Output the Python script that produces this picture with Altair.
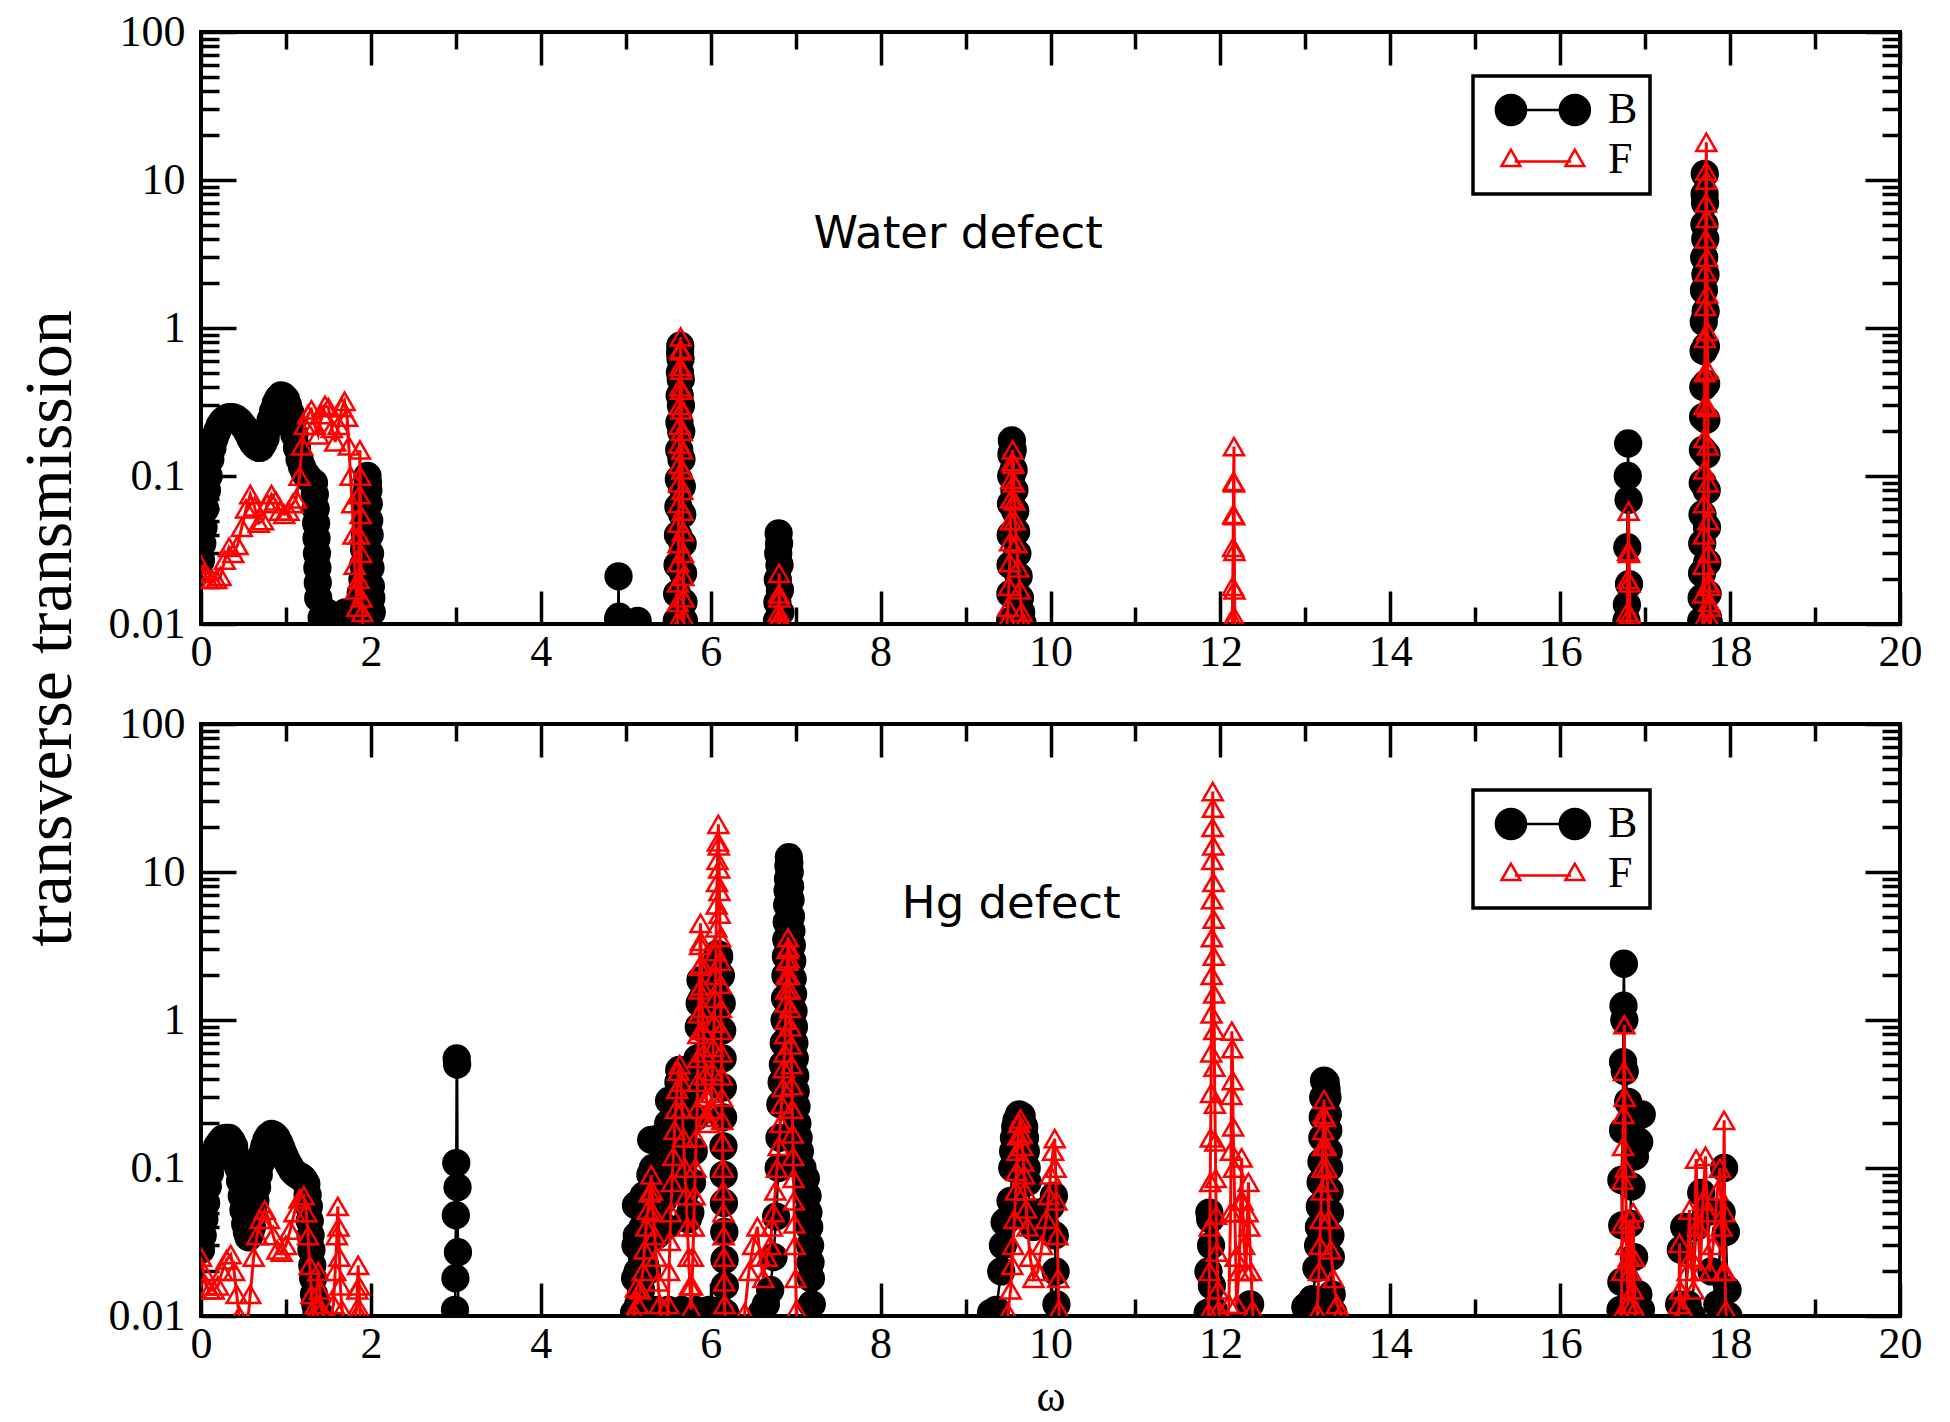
import altair as alt
import pandas as pd

SERIF = "Liberation Serif"
SANS = "DejaVu Sans"

# ---------------- Water defect (top panel) ----------------
WATER_B = [
    (0.00, 0.027), (0.015, 0.035), (0.03, 0.045), (0.05, 0.06), (0.07, 0.08), (0.09, 0.1),
    (0.11, 0.13), (0.135, 0.155), (0.16, 0.18), (0.19, 0.2), (0.22, 0.22), (0.255, 0.235),
    (0.29, 0.245), (0.33, 0.25), (0.37, 0.25), (0.41, 0.245), (0.45, 0.235), (0.485, 0.222),
    (0.52, 0.21), (0.55, 0.195), (0.58, 0.18), (0.61, 0.168), (0.64, 0.16), (0.67, 0.155),
    (0.70, 0.155), (0.73, 0.165), (0.76, 0.18), (0.79, 0.21), (0.82, 0.24), (0.85, 0.275),
    (0.88, 0.31), (0.91, 0.335), (0.94, 0.35), (0.97, 0.345), (1.00, 0.33), (1.025, 0.3),
    (1.05, 0.27), (1.075, 0.23), (1.10, 0.19), (1.13, 0.155), (1.16, 0.13), (1.19, 0.115),
    (1.22, 0.105), (1.25, 0.1), (1.28, 0.095), (1.305, 0.092), (1.33, 0.09), (1.34, 0.075),
    (1.35, 0.06), (1.355, 0.048), (1.36, 0.038), (1.365, 0.03), (1.37, 0.024), (1.375, 0.019),
    (1.38, 0.015), (1.42, 0.011), (1.48, 0.012), (1.55, 0.0105), (1.62, 0.011), (1.70, 0.012),
    (1.77, 0.011), (1.83, 0.012), (1.88, 0.016), (1.90, 0.02), (1.91, 0.025), (1.92, 0.032),
    (1.93, 0.04), (1.94, 0.05), (1.95, 0.065), (1.955, 0.08), (1.96, 0.1), (1.965, 0.09),
    (1.97, 0.08), (1.975, 0.065), (1.98, 0.05), (1.985, 0.04), (1.99, 0.03), (1.995, 0.024),
    (2.00, 0.018), (2.005, 0.015), (2.01, 0.012), (2.03, 0.006),
    (4.86, 0.004), (4.91, 0.0108), (4.915, 0.021), (4.92, 0.0112), (5.02, 0.007), (5.14, 0.0105), (5.22, 0.005),
    (5.56, 0.004), (5.60, 0.0105), (5.605, 0.016), (5.61, 0.025), (5.615, 0.04), (5.62, 0.062),
    (5.625, 0.095), (5.63, 0.15), (5.632, 0.23), (5.635, 0.35), (5.638, 0.5), (5.64, 0.68),
    (5.642, 0.76), (5.645, 0.62), (5.648, 0.45), (5.65, 0.3), (5.653, 0.2), (5.656, 0.13),
    (5.66, 0.085), (5.665, 0.055), (5.67, 0.035), (5.675, 0.022), (5.68, 0.014), (5.685, 0.0105), (5.72, 0.004),
    (6.74, 0.004), (6.78, 0.0105), (6.785, 0.014), (6.79, 0.02), (6.795, 0.03), (6.80, 0.041),
    (6.805, 0.035), (6.81, 0.025), (6.815, 0.017), (6.82, 0.012), (6.86, 0.004),
    (9.50, 0.004), (9.525, 0.0105), (9.528, 0.016), (9.53, 0.025), (9.532, 0.04), (9.535, 0.065),
    (9.538, 0.1), (9.54, 0.14), (9.545, 0.174), (9.555, 0.15), (9.565, 0.11), (9.575, 0.08),
    (9.585, 0.058), (9.595, 0.042), (9.61, 0.03), (9.625, 0.021), (9.64, 0.015), (9.655, 0.012),
    (9.67, 0.0102), (9.70, 0.004),
    (16.74, 0.004), (16.78, 0.0105), (16.785, 0.0135), (16.79, 0.033), (16.795, 0.1), (16.80, 0.166),
    (16.805, 0.069), (16.81, 0.0186), (16.82, 0.006),
    (17.62, 0.004), (17.66, 0.0105), (17.665, 0.015), (17.67, 0.022), (17.672, 0.035), (17.675, 0.055),
    (17.678, 0.09), (17.68, 0.15), (17.682, 0.25), (17.685, 0.4), (17.688, 0.7), (17.69, 1.1),
    (17.692, 1.8), (17.695, 3.0), (17.698, 5.0), (17.70, 8.0), (17.702, 11.0), (17.705, 7.0),
    (17.708, 4.0), (17.71, 2.3), (17.712, 1.3), (17.715, 0.75), (17.718, 0.42), (17.72, 0.24),
    (17.722, 0.14), (17.725, 0.08), (17.728, 0.045), (17.73, 0.026), (17.735, 0.016), (17.74, 0.011),
    (17.75, 0.0102), (17.78, 0.004),
]

WATER_F = [
    (0.00, 0.025), (0.04, 0.022), (0.08, 0.02), (0.13, 0.02), (0.18, 0.02), (0.23, 0.021),
    (0.28, 0.027), (0.33, 0.033), (0.38, 0.03), (0.43, 0.034), (0.48, 0.045), (0.53, 0.06),
    (0.58, 0.075), (0.63, 0.062), (0.68, 0.048), (0.73, 0.05), (0.78, 0.065), (0.83, 0.075),
    (0.88, 0.068), (0.93, 0.058), (0.98, 0.055), (1.03, 0.058), (1.08, 0.065), (1.12, 0.07),
    (1.16, 0.1), (1.19, 0.16), (1.22, 0.22), (1.26, 0.26), (1.30, 0.28), (1.34, 0.22),
    (1.38, 0.19), (1.42, 0.26), (1.46, 0.3), (1.50, 0.29), (1.54, 0.21), (1.58, 0.17),
    (1.62, 0.22), (1.66, 0.29), (1.69, 0.32), (1.72, 0.25), (1.74, 0.16), (1.76, 0.1),
    (1.78, 0.065), (1.795, 0.04), (1.81, 0.025), (1.825, 0.017), (1.84, 0.013), (1.855, 0.02),
    (1.86, 0.04), (1.865, 0.075), (1.87, 0.15), (1.875, 0.1), (1.88, 0.055), (1.885, 0.03),
    (1.89, 0.015), (1.90, 0.012), (1.92, 0.005),
    (5.58, 0.004), (5.61, 0.0105), (5.612, 0.014), (5.615, 0.019), (5.618, 0.026), (5.62, 0.035),
    (5.622, 0.048), (5.625, 0.065), (5.628, 0.09), (5.63, 0.12), (5.632, 0.165), (5.635, 0.22),
    (5.637, 0.3), (5.64, 0.4), (5.642, 0.55), (5.645, 0.72), (5.647, 0.87), (5.65, 0.7),
    (5.652, 0.52), (5.655, 0.38), (5.657, 0.28), (5.66, 0.2), (5.662, 0.15), (5.665, 0.11),
    (5.667, 0.08), (5.67, 0.058), (5.672, 0.042), (5.675, 0.03), (5.678, 0.021), (5.68, 0.015),
    (5.683, 0.011), (5.70, 0.004),
    (6.76, 0.004), (6.795, 0.0105), (6.80, 0.012), (6.802, 0.016), (6.805, 0.022), (6.808, 0.015),
    (6.81, 0.011), (6.84, 0.004),
    (9.46, 0.004), (9.49, 0.0105), (9.50, 0.013), (9.51, 0.018), (9.52, 0.026), (9.525, 0.036),
    (9.53, 0.05), (9.535, 0.07), (9.54, 0.095), (9.55, 0.125), (9.555, 0.15), (9.565, 0.12),
    (9.57, 0.09), (9.575, 0.068), (9.58, 0.05), (9.60, 0.035), (9.62, 0.024), (9.64, 0.017),
    (9.66, 0.012), (9.68, 0.0102), (9.71, 0.004),
    (12.10, 0.003), (12.14, 0.0108), (12.145, 0.018), (12.15, 0.033), (12.152, 0.055), (12.155, 0.092),
    (12.16, 0.158), (12.161, 0.09), (12.162, 0.054), (12.165, 0.031), (12.166, 0.017), (12.17, 0.011),
    (12.19, 0.003),
    (16.76, 0.003), (16.79, 0.012), (16.795, 0.02), (16.80, 0.031), (16.805, 0.058), (16.81, 0.03),
    (16.815, 0.019), (16.82, 0.0115), (16.85, 0.003),
    (17.64, 0.003), (17.68, 0.0105), (17.685, 0.016), (17.688, 0.025), (17.69, 0.04), (17.692, 0.065),
    (17.695, 0.11), (17.698, 0.18), (17.70, 0.3), (17.702, 0.5), (17.705, 0.85), (17.708, 1.4),
    (17.71, 2.4), (17.712, 4.0), (17.715, 7.0), (17.718, 11.5), (17.72, 18.0), (17.722, 10.0),
    (17.725, 5.5), (17.728, 3.0), (17.73, 1.7), (17.732, 0.95), (17.735, 0.52), (17.738, 0.29),
    (17.74, 0.16), (17.742, 0.09), (17.745, 0.05), (17.748, 0.03), (17.75, 0.019), (17.755, 0.014),
    (17.76, 0.018), (17.765, 0.013), (17.77, 0.0105), (17.80, 0.004),
]

# ---------------- Hg defect (bottom panel) ----------------
HG_B = [
    (0.00, 0.028), (0.02, 0.035), (0.04, 0.045), (0.06, 0.058), (0.08, 0.075), (0.105, 0.092),
    (0.13, 0.11), (0.16, 0.127), (0.19, 0.14), (0.225, 0.15), (0.26, 0.158), (0.295, 0.16),
    (0.33, 0.16), (0.36, 0.152), (0.39, 0.14), (0.415, 0.12), (0.44, 0.1), (0.46, 0.082),
    (0.48, 0.065), (0.50, 0.052), (0.52, 0.042), (0.54, 0.037), (0.56, 0.034), (0.58, 0.036),
    (0.60, 0.04), (0.62, 0.049), (0.64, 0.06), (0.66, 0.074), (0.68, 0.09), (0.70, 0.107),
    (0.72, 0.125), (0.745, 0.14), (0.77, 0.155), (0.80, 0.165), (0.83, 0.17), (0.86, 0.167),
    (0.89, 0.16), (0.92, 0.148), (0.95, 0.135), (0.98, 0.122), (1.01, 0.112), (1.04, 0.104),
    (1.07, 0.097), (1.10, 0.093), (1.13, 0.09), (1.16, 0.088), (1.19, 0.086), (1.215, 0.083),
    (1.24, 0.078), (1.255, 0.066), (1.27, 0.055), (1.28, 0.044), (1.29, 0.035), (1.30, 0.028),
    (1.31, 0.022), (1.32, 0.018), (1.33, 0.014), (1.345, 0.012), (1.36, 0.0105), (1.40, 0.0102),
    (1.44, 0.006),
    (2.96, 0.004), (2.99, 0.011), (2.995, 0.018), (3.0, 0.048), (3.005, 0.108), (3.01, 0.55),
    (3.015, 0.5), (3.02, 0.074), (3.025, 0.027), (3.03, 0.004),
    # broad band 5.1 - 6.2 : base pass, then the resonance columns
    (5.05, 0.004), (5.10, 0.0105), (5.18, 0.011), (5.26, 0.0105), (5.34, 0.011), (5.42, 0.0105),
    (5.50, 0.011), (5.58, 0.0105), (5.66, 0.011), (5.74, 0.0105), (5.82, 0.011), (5.90, 0.0105),
    (5.98, 0.011), (6.06, 0.0105), (6.12, 0.011), (6.12, 0.004), (5.10, 0.004),
    (5.10, 0.0105), (5.11, 0.018), (5.115, 0.03), (5.12, 0.056), (5.13, 0.035), (5.14, 0.02),
    (5.15, 0.012), (5.18, 0.015), (5.19, 0.025), (5.20, 0.04), (5.21, 0.065), (5.22, 0.04),
    (5.23, 0.022), (5.25, 0.02), (5.27, 0.035), (5.28, 0.055), (5.29, 0.09), (5.30, 0.155),
    (5.32, 0.1), (5.34, 0.06), (5.36, 0.035), (5.38, 0.06), (5.39, 0.1), (5.40, 0.16),
    (5.42, 0.1), (5.44, 0.06), (5.46, 0.04), (5.48, 0.07), (5.49, 0.12), (5.50, 0.2),
    (5.51, 0.285), (5.53, 0.18), (5.55, 0.11), (5.57, 0.07), (5.59, 0.1), (5.60, 0.16),
    (5.61, 0.25), (5.62, 0.38), (5.63, 0.46), (5.65, 0.3), (5.67, 0.18), (5.69, 0.11),
    (5.71, 0.07), (5.73, 0.045), (5.76, 0.05), (5.78, 0.08), (5.80, 0.13), (5.82, 0.22),
    (5.83, 0.35), (5.845, 0.55), (5.86, 0.9), (5.87, 1.3), (5.88, 1.86), (5.90, 1.4),
    (5.92, 0.9), (5.94, 0.6), (5.96, 0.45), (5.98, 0.55), (6.00, 0.8), (6.02, 1.2),
    (6.04, 1.7), (6.06, 2.3), (6.08, 2.8), (6.10, 2.7), (6.12, 2.0), (6.13, 1.3),
    (6.135, 0.85), (6.14, 0.55), (6.143, 0.35), (6.146, 0.22), (6.15, 0.14), (6.153, 0.09),
    (6.156, 0.058), (6.16, 0.037), (6.163, 0.024), (6.166, 0.016), (6.17, 0.0105), (6.20, 0.004),
    (6.55, 0.004), (6.60, 0.0105), (6.65, 0.012), (6.70, 0.015), (6.74, 0.025), (6.77, 0.047),
    (6.80, 0.1), (6.81, 0.16), (6.82, 0.27), (6.835, 0.38), (6.85, 0.5), (6.86, 0.7),
    (6.87, 1.0), (6.875, 1.4), (6.88, 2.0), (6.885, 2.7), (6.89, 3.5), (6.895, 4.6),
    (6.90, 6.0), (6.905, 7.5), (6.91, 9.0), (6.915, 11.0), (6.92, 12.6), (6.925, 11.5),
    (6.93, 10.0), (6.935, 8.0), (6.94, 6.5), (6.945, 5.0), (6.95, 4.0), (6.955, 3.2),
    (6.96, 2.5), (6.965, 1.9), (6.97, 1.5), (6.975, 1.15), (6.98, 0.9), (6.985, 0.7),
    (6.99, 0.55), (6.995, 0.42), (7.00, 0.33), (7.01, 0.26), (7.02, 0.2), (7.035, 0.16),
    (7.05, 0.13), (7.08, 0.1), (7.12, 0.085), (7.14, 0.065), (7.15, 0.05), (7.16, 0.04),
    (7.17, 0.03), (7.175, 0.023), (7.18, 0.018), (7.19, 0.012), (7.22, 0.004),
    (9.25, 0.004), (9.30, 0.0105), (9.36, 0.011), (9.42, 0.02), (9.44, 0.03), (9.46, 0.043),
    (9.50, 0.045), (9.53, 0.06), (9.55, 0.1), (9.56, 0.13), (9.57, 0.16), (9.585, 0.19),
    (9.60, 0.21), (9.63, 0.23), (9.66, 0.225), (9.69, 0.19), (9.70, 0.16), (9.71, 0.13),
    (9.72, 0.1), (9.73, 0.08), (9.76, 0.05), (9.80, 0.04), (9.85, 0.05), (9.90, 0.045),
    (9.95, 0.04), (10.00, 0.055), (10.04, 0.065), (10.05, 0.035), (10.06, 0.02), (10.07, 0.012),
    (10.10, 0.004),
    (11.80, 0.004), (11.85, 0.0105), (11.86, 0.02), (11.87, 0.05), (11.88, 0.045), (11.89, 0.03),
    (11.90, 0.016), (11.92, 0.011), (12.00, 0.006), (12.30, 0.008), (12.35, 0.012), (12.38, 0.006),
    (12.95, 0.004), (13.00, 0.0115), (13.08, 0.013), (13.13, 0.021), (13.15, 0.03), (13.16, 0.04),
    (13.17, 0.055), (13.18, 0.08), (13.19, 0.11), (13.20, 0.16), (13.205, 0.22), (13.21, 0.3),
    (13.22, 0.39), (13.24, 0.38), (13.25, 0.34), (13.26, 0.3), (13.265, 0.23), (13.27, 0.18),
    (13.275, 0.13), (13.28, 0.1), (13.285, 0.07), (13.29, 0.05), (13.295, 0.035), (13.30, 0.025),
    (13.31, 0.014), (13.33, 0.0105), (13.36, 0.004),
    (16.60, 0.004), (16.71, 0.011), (16.72, 0.017), (16.73, 0.041), (16.72, 0.083), (16.74, 0.18),
    (16.74, 0.52), (16.745, 1.25), (16.75, 2.4), (16.755, 1.0), (16.76, 0.45), (16.80, 0.28),
    (16.85, 0.24), (16.90, 0.22), (16.96, 0.23), (16.93, 0.15), (16.88, 0.12), (16.84, 0.075),
    (16.82, 0.042), (16.87, 0.025), (16.92, 0.014), (16.95, 0.011), (17.00, 0.004),
    (17.35, 0.004), (17.40, 0.012), (17.42, 0.028), (17.46, 0.04), (17.50, 0.012), (17.55, 0.01),
    (17.60, 0.04), (17.66, 0.068), (17.72, 0.05), (17.78, 0.02), (17.85, 0.012), (17.90, 0.05),
    (17.93, 0.1), (17.95, 0.037), (17.97, 0.015), (17.98, 0.01), (18.05, 0.004),
]

HG_F = [
    (0.00, 0.025), (0.03, 0.02), (0.06, 0.016), (0.10, 0.015), (0.15, 0.015), (0.20, 0.016),
    (0.25, 0.02), (0.30, 0.024), (0.35, 0.026), (0.39, 0.02), (0.42, 0.014), (0.45, 0.01),
    (0.48, 0.008), (0.52, 0.007), (0.55, 0.009), (0.58, 0.014), (0.62, 0.025), (0.66, 0.035),
    (0.70, 0.045), (0.75, 0.052), (0.80, 0.045), (0.85, 0.035), (0.90, 0.028), (0.95, 0.027),
    (1.00, 0.03), (1.05, 0.038), (1.10, 0.05), (1.16, 0.062), (1.21, 0.065), (1.24, 0.05),
    (1.26, 0.035), (1.28, 0.022), (1.30, 0.014), (1.32, 0.01), (1.35, 0.012), (1.38, 0.02),
    (1.40, 0.015), (1.42, 0.011), (1.50, 0.008), (1.56, 0.012), (1.58, 0.02), (1.60, 0.035),
    (1.61, 0.055), (1.62, 0.04), (1.63, 0.025), (1.64, 0.016), (1.66, 0.011), (1.75, 0.006),
    (1.83, 0.011), (1.84, 0.015), (1.85, 0.022), (1.86, 0.016), (1.87, 0.011), (1.90, 0.005),
    (5.05, 0.004), (5.10, 0.0105), (5.12, 0.0155), (5.14, 0.012), (5.17, 0.015), (5.20, 0.02),
    (5.22, 0.028), (5.24, 0.04), (5.26, 0.052), (5.28, 0.068), (5.30, 0.09), (5.31, 0.07),
    (5.32, 0.05), (5.34, 0.035), (5.36, 0.025), (5.38, 0.017), (5.40, 0.012), (5.43, 0.008),
    (5.47, 0.006), (5.50, 0.012), (5.51, 0.02), (5.52, 0.032), (5.53, 0.05), (5.545, 0.08),
    (5.56, 0.12), (5.575, 0.18), (5.59, 0.25), (5.605, 0.34), (5.62, 0.45), (5.635, 0.5),
    (5.65, 0.38), (5.665, 0.25), (5.68, 0.16), (5.695, 0.1), (5.71, 0.065), (5.725, 0.04),
    (5.74, 0.025), (5.755, 0.016), (5.77, 0.011), (5.78, 0.016), (5.79, 0.025), (5.80, 0.04),
    (5.81, 0.065), (5.82, 0.1), (5.83, 0.16), (5.84, 0.25), (5.845, 0.38), (5.85, 0.55),
    (5.855, 0.8), (5.86, 1.1), (5.865, 1.6), (5.87, 2.3), (5.875, 3.2), (5.88, 4.5),
    (5.885, 3.4), (5.89, 2.4), (5.895, 1.7), (5.90, 1.2), (5.91, 0.85), (5.92, 0.6),
    (5.935, 0.42), (5.95, 0.3), (5.965, 0.22), (5.98, 0.2), (5.995, 0.25), (6.01, 0.32),
    (6.02, 0.45), (6.03, 0.65), (6.04, 0.95), (6.05, 1.4), (6.055, 2.0), (6.06, 2.9),
    (6.065, 4.2), (6.07, 6.0), (6.075, 8.5), (6.08, 12.0), (6.085, 16.0), (6.09, 21.0),
    (6.095, 15.0), (6.10, 10.5), (6.103, 7.4), (6.106, 5.2), (6.11, 3.6), (6.113, 2.5),
    (6.116, 1.75), (6.12, 1.2), (6.123, 0.85), (6.126, 0.6), (6.13, 0.42), (6.133, 0.3),
    (6.136, 0.21), (6.14, 0.15), (6.143, 0.1), (6.146, 0.07), (6.15, 0.05), (6.153, 0.035),
    (6.156, 0.025), (6.16, 0.017), (6.163, 0.012), (6.20, 0.004),
    (6.35, 0.004), (6.40, 0.0105), (6.45, 0.02), (6.50, 0.03), (6.55, 0.04), (6.58, 0.025),
    (6.62, 0.018), (6.66, 0.025), (6.70, 0.03), (6.72, 0.04), (6.74, 0.05), (6.76, 0.07),
    (6.78, 0.1), (6.80, 0.14), (6.82, 0.2), (6.835, 0.27), (6.85, 0.35), (6.86, 0.47),
    (6.87, 0.6), (6.875, 0.8), (6.88, 1.0), (6.885, 1.3), (6.89, 1.6), (6.895, 2.0),
    (6.90, 2.5), (6.905, 3.0), (6.91, 3.6), (6.915, 3.1), (6.92, 2.6), (6.925, 2.0),
    (6.93, 1.6), (6.935, 1.2), (6.94, 0.9), (6.945, 0.68), (6.95, 0.5), (6.955, 0.36),
    (6.96, 0.25), (6.965, 0.17), (6.97, 0.12), (6.975, 0.085), (6.98, 0.06), (6.985, 0.042),
    (6.99, 0.03), (7.00, 0.018), (7.01, 0.011), (7.05, 0.004),
    (9.45, 0.004), (9.50, 0.0105), (9.53, 0.015), (9.55, 0.022), (9.56, 0.03), (9.575, 0.045),
    (9.59, 0.07), (9.60, 0.095), (9.61, 0.13), (9.62, 0.165), (9.63, 0.2), (9.645, 0.215),
    (9.66, 0.17), (9.67, 0.14), (9.68, 0.11), (9.69, 0.09), (9.70, 0.07), (9.715, 0.053),
    (9.73, 0.04), (9.76, 0.025), (9.80, 0.018), (9.85, 0.02), (9.90, 0.03), (9.95, 0.045),
    (9.98, 0.065), (10.00, 0.09), (10.03, 0.13), (10.05, 0.158), (10.06, 0.1), (10.07, 0.06),
    (10.08, 0.035), (10.09, 0.018), (10.10, 0.011), (10.13, 0.004),
    (11.80, 0.004), (11.86, 0.0105), (11.87, 0.02), (11.875, 0.04), (11.88, 0.08), (11.885, 0.16),
    (11.89, 0.32), (11.892, 0.6), (11.895, 1.1), (11.897, 2.0), (11.90, 3.6), (11.902, 6.5),
    (11.905, 12.0), (11.907, 20.0), (11.91, 35.0), (11.912, 27.0), (11.915, 15.0), (11.918, 8.5),
    (11.92, 4.8), (11.922, 2.7), (11.925, 1.5), (11.928, 0.85), (11.93, 0.48), (11.935, 0.27),
    (11.94, 0.15), (11.945, 0.085), (11.95, 0.048), (11.96, 0.027), (11.97, 0.015), (11.98, 0.011),
    (12.05, 0.006), (12.10, 0.012), (12.12, 0.05), (12.125, 0.13), (12.13, 0.31), (12.135, 0.84),
    (12.14, 0.64), (12.145, 0.39), (12.15, 0.19), (12.16, 0.1), (12.17, 0.05), (12.18, 0.025),
    (12.19, 0.012), (12.22, 0.02), (12.24, 0.06), (12.25, 0.117), (12.26, 0.06), (12.28, 0.03),
    (12.30, 0.02), (12.32, 0.05), (12.33, 0.08), (12.34, 0.04), (12.36, 0.02), (12.38, 0.011),
    (12.42, 0.004),
    (13.10, 0.004), (13.14, 0.0105), (13.16, 0.02), (13.17, 0.03), (13.18, 0.045), (13.19, 0.07),
    (13.20, 0.1), (13.205, 0.14), (13.21, 0.18), (13.215, 0.23), (13.22, 0.29), (13.23, 0.22),
    (13.24, 0.14), (13.25, 0.1), (13.26, 0.08), (13.28, 0.045), (13.30, 0.028), (13.33, 0.018),
    (13.37, 0.012), (13.42, 0.0105), (13.45, 0.004),
    (16.65, 0.004), (16.72, 0.0105), (16.725, 0.02), (16.73, 0.042), (16.735, 0.083), (16.74, 0.14),
    (16.745, 0.23), (16.75, 0.45), (16.755, 0.93), (16.76, 0.3), (16.77, 0.1), (16.78, 0.03),
    (16.80, 0.012), (16.81, 0.025), (16.82, 0.045), (16.83, 0.02), (16.85, 0.012), (16.855, 0.015),
    (16.86, 0.05), (16.865, 0.025), (16.88, 0.011), (16.92, 0.004),
    (17.35, 0.004), (17.40, 0.012), (17.405, 0.031), (17.41, 0.015), (17.45, 0.011), (17.50, 0.02),
    (17.52, 0.052), (17.54, 0.025), (17.57, 0.015), (17.60, 0.115), (17.62, 0.04), (17.65, 0.02),
    (17.68, 0.06), (17.71, 0.12), (17.73, 0.05), (17.76, 0.02), (17.80, 0.03), (17.85, 0.07),
    (17.88, 0.1), (17.90, 0.04), (17.92, 0.02), (17.93, 0.21), (17.935, 0.05), (17.94, 0.02),
    (17.95, 0.011), (18.00, 0.004),
]

SERIES = ["B", "F"]
X_MAJOR = [0, 2, 4, 6, 8, 10, 12, 14, 16, 18, 20]
X_MINOR = [1, 3, 5, 7, 9, 11, 13, 15, 17, 19]
Y_MAJOR = [0.01, 0.1, 1, 10, 100]
Y_MINOR = [0.02, 0.03, 0.04, 0.05, 0.06, 0.07, 0.08, 0.09,
           0.2, 0.3, 0.4, 0.5, 0.6, 0.7, 0.8, 0.9,
           2, 3, 4, 5, 6, 7, 8, 9,
           20, 30, 40, 50, 60, 70, 80, 90]

PANEL_TEXT = [("Water defect", 7.21, 3.46), ("Hg defect", 8.25, 4.9)]

W, H = 1699, 592

# legend symbols: two markers joined by a line (unit = 47 px)
PATH_B = ("M -0.80 0 A 0.32 0.32 0 1 0 -0.16 0 A 0.32 0.32 0 1 0 -0.80 0 Z "
          "M 0.56 0 A 0.32 0.32 0 1 0 1.20 0 A 0.32 0.32 0 1 0 0.56 0 Z "
          "M -0.48 0 L 0.88 0")
PATH_F = ("M -0.48 -0.22 L -0.68 0.13 L -0.28 0.13 Z "
          "M 0.88 -0.22 L 0.68 0.13 L 1.08 0.13 Z "
          "M -0.40 0.03 L 0.80 0.03")

XS = alt.Scale(domain=[0, 20], nice=False, zero=False)
YS = alt.Scale(type="log", domain=[0.01, 100], nice=False)


def tick_axis(orient, values, size):
    return alt.Axis(orient=orient, values=values, labels=False, domain=False, grid=False,
                    ticks=True, tickSize=size, tickWidth=3.5, tickColor="black",
                    offset=-size, title=None)


def panel(b_pts, f_pts, text, legend_xy, bottom):
    dfb = pd.DataFrame(b_pts, columns=["x", "y"])
    dfb["i"] = range(len(dfb))
    dff = pd.DataFrame(f_pts, columns=["x", "y"])
    dff["i"] = range(len(dff))

    xkw = dict(orient="bottom", values=X_MAJOR, format="d", ticks=False, tickSize=0,
               domain=False, grid=False, labelFont=SERIF, labelFontSize=44,
               labelColor="black", labelPadding=6, labelFlush=False, labelOverlap=False)
    if bottom:
        xkw.update(title="ω", titleFont=SERIF, titleFontSize=44, titleFontWeight="normal",
                   titleColor="black", titleY=94, titleBaseline="alphabetic")
    else:
        xkw.update(title=None)
    ykw = dict(orient="left", values=Y_MAJOR, format="~g", ticks=False, tickSize=0,
               domain=False, grid=False, labelFont=SERIF, labelFontSize=44,
               labelColor="black", labelPadding=16, labelFlush=False, labelOverlap=False,
               labelBaseline="middle")
    if not bottom:
        ykw.update(title="transverse transmission", titleFont=SERIF, titleFontSize=68,
                   titleFontWeight="normal", titleColor="black", titleAngle=270,
                   titleX=-131, titleY=596, titleAlign="center", titleBaseline="alphabetic")
    else:
        ykw.update(title=None)

    line_b = alt.Chart(dfb).mark_line(color="black", strokeWidth=2.5, clip=True).encode(
        x=alt.X("x:Q", scale=XS, axis=alt.Axis(**xkw)),
        y=alt.Y("y:Q", scale=YS, axis=alt.Axis(**ykw)),
        order="i:Q",
    )
    pt_b = alt.Chart(dfb).mark_point(shape="circle", filled=True, color="black", size=800,
                                     opacity=1, clip=True).encode(
        x=alt.X("x:Q", scale=XS, axis=None), y=alt.Y("y:Q", scale=YS, axis=None))
    line_f = alt.Chart(dff).mark_line(color="#ff0000", strokeWidth=3, clip=True).encode(
        x=alt.X("x:Q", scale=XS, axis=None), y=alt.Y("y:Q", scale=YS, axis=None),
        order="i:Q")
    pt_f = alt.Chart(dff).mark_point(shape="triangle-up", filled=False, color="#ff0000",
                                     size=400, strokeWidth=2.5, opacity=1, clip=True).encode(
        x=alt.X("x:Q", scale=XS, axis=None), y=alt.Y("y:Q", scale=YS, axis=None))

    tdf = pd.DataFrame([text], columns=["t", "x", "y"])
    txt = alt.Chart(tdf).mark_text(font=SANS, fontSize=45, align="left", baseline="alphabetic",
                                   color="black").encode(
        x=alt.X("x:Q", scale=XS, axis=None), y=alt.Y("y:Q", scale=YS, axis=None), text="t:N")

    leg = alt.Legend(orient="none", legendX=legend_xy[0], legendY=legend_xy[1], title=None,
                     labelFont=SERIF, labelFontSize=44, labelColor="black", labelOffset=26,
                     symbolSize=8836, symbolStrokeWidth=2.5, symbolOpacity=1,
                     strokeColor="black", fillColor="white", padding=12, rowPadding=6,
                     clipHeight=44)
    ldf = pd.DataFrame({"s": SERIES})
    legend_layer = alt.Chart(ldf).mark_point(opacity=0).encode(
        shape=alt.Shape("s:N", scale=alt.Scale(domain=SERIES, range=[PATH_B, PATH_F]), legend=leg),
        fill=alt.Fill("s:N", scale=alt.Scale(domain=SERIES, range=["black", "transparent"]), legend=leg),
        stroke=alt.Stroke("s:N", scale=alt.Scale(domain=SERIES, range=["black", "#ff0000"]), legend=leg),
    )

    def ax_layer(xo, xv, xs, yo, yv, ys):
        return alt.Chart(dfb).mark_point(opacity=0).encode(
            x=alt.X("x:Q", scale=XS, axis=tick_axis(xo, xv, xs)),
            y=alt.Y("y:Q", scale=YS, axis=tick_axis(yo, yv, ys)))

    a1 = ax_layer("bottom", X_MAJOR, 33, "left", Y_MAJOR, 35)
    a2 = ax_layer("bottom", X_MINOR, 17, "left", Y_MINOR, 18)
    a3 = ax_layer("top", X_MAJOR, 33, "right", Y_MAJOR, 35)
    a4 = ax_layer("top", X_MINOR, 17, "right", Y_MINOR, 18)

    return alt.layer(line_b, pt_b, line_f, pt_f, txt, legend_layer, a1, a2, a3, a4).resolve_axis(
        x="independent", y="independent").properties(width=W, height=H)


top = panel(WATER_B, WATER_F, PANEL_TEXT[0], (1272, 44), False)
bot = panel(HG_B, HG_F, PANEL_TEXT[1], (1272, 66), True)

chart = alt.vconcat(top, bot, spacing=100, bounds="flush").resolve_scale(
    shape="independent", fill="independent", stroke="independent").resolve_legend(
    shape="independent", fill="independent", stroke="independent").properties(
    padding={"left": 6, "top": 0, "right": 5, "bottom": 0}, background="white").configure_view(
    stroke="black", strokeWidth=4).configure_legend(strokeWidth=3.5)

chart.save("out.html", embed_options={"renderer": "svg", "actions": False})
